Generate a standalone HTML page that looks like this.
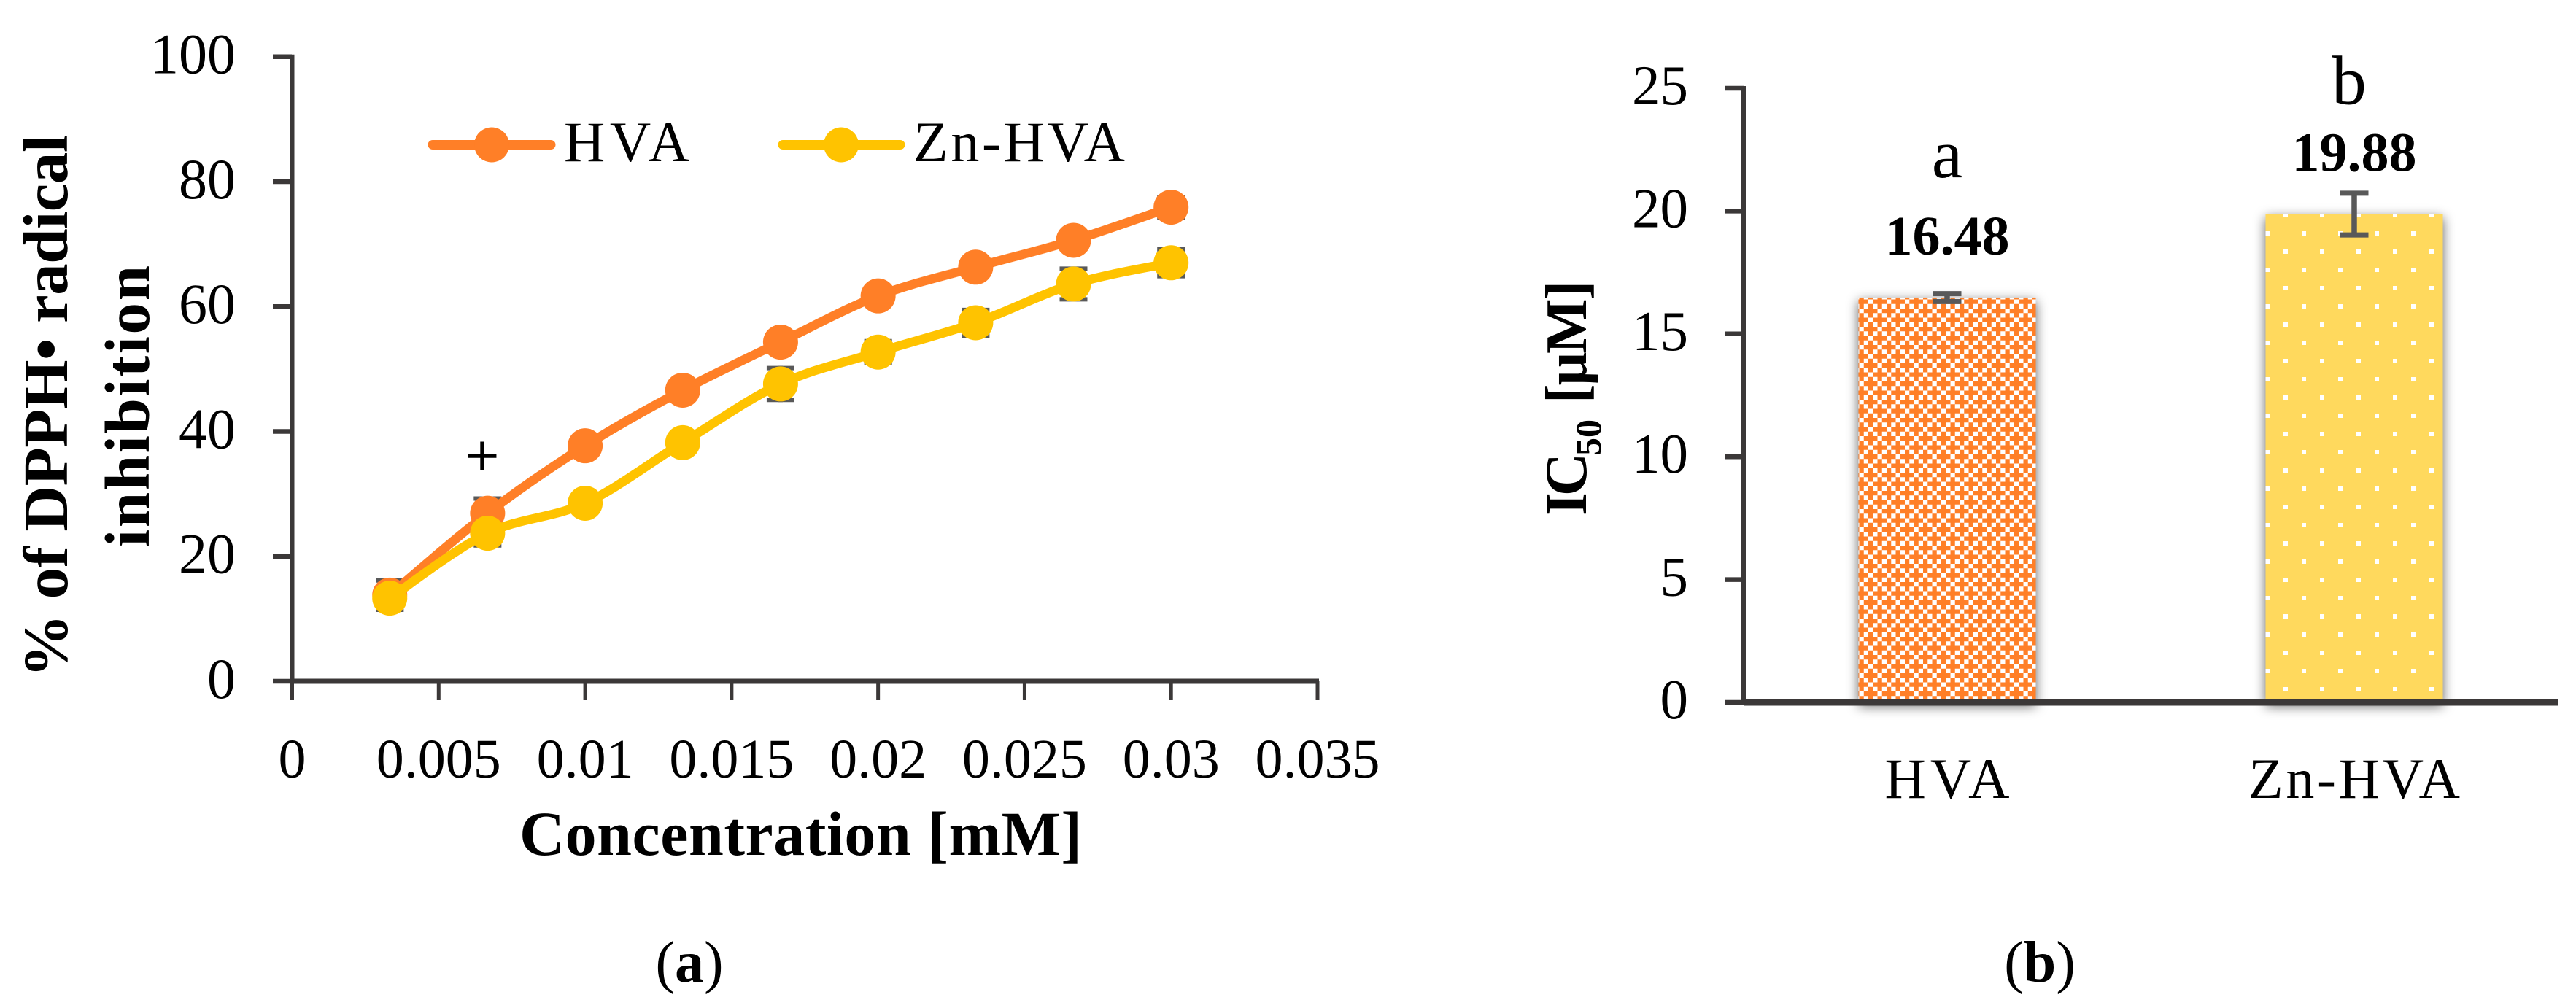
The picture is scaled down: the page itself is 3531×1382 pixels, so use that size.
<!DOCTYPE html>
<html lang="en">
<head>
<meta charset="utf-8">
<title>DPPH radical inhibition and IC50 of HVA and Zn-HVA</title>
<style>
  html, body { margin: 0; padding: 0; background: #fff; }
  svg { display: block; }
  text { font-family: "Liberation Serif", "Noto Serif CJK SC", serif; fill: #000; }
</style>
</head>
<body>
<svg id="figure" xmlns="http://www.w3.org/2000/svg" width="3531" height="1382" viewBox="0 0 3531 1382">
  <defs>
    <pattern id="hvaPattern" patternUnits="userSpaceOnUse" x="2548.5" y="410.5" width="25" height="25">
      <rect width="25" height="25" fill="#ff7f27"/>
      <rect x="12.5" y="0" width="6.25" height="6.25" fill="#fff"/>
      <rect x="6.25" y="6.25" width="6.25" height="6.25" fill="#fff"/>
      <rect x="18.75" y="6.25" width="6.25" height="6.25" fill="#fff"/>
      <rect x="0" y="12.5" width="6.25" height="6.25" fill="#fff"/>
      <rect x="6.25" y="18.75" width="6.25" height="6.25" fill="#fff"/>
      <rect x="18.75" y="18.75" width="6.25" height="6.25" fill="#fff"/>
    </pattern>
    <pattern id="znPattern" patternUnits="userSpaceOnUse" x="3105" y="317" width="50" height="50">
      <rect width="50" height="50" fill="#ffd95d"/>
      <rect x="0" y="0" width="6" height="6" fill="#fff"/>
      <rect x="25" y="25" width="6" height="6" fill="#fff"/>
    </pattern>
    <filter id="barShadow" filterUnits="userSpaceOnUse" x="2400" y="200" width="1131" height="850">
      <feGaussianBlur stdDeviation="8"/>
    </filter>
  </defs>

  <g id="chartA">
    <g id="axesA"></g>
    <g id="errorsA"></g>
    <g id="seriesA"></g>
    <text x="661" y="652" font-size="80" text-anchor="middle" stroke="#000" stroke-width="1.5">+</text>
    <g>
      <g>
        <line x1="593" y1="198.5" x2="755" y2="198.5" stroke="#ff7f27" stroke-width="13" stroke-linecap="round"/>
        <circle cx="674" cy="198.5" r="24" fill="#ff7f27"/>
        <text x="773" y="221" font-size="78" textLength="172">HVA</text>
      </g>
      <g>
        <line x1="1073" y1="198.5" x2="1234" y2="198.5" stroke="#ffc300" stroke-width="13" stroke-linecap="round"/>
        <circle cx="1153" cy="198.5" r="24" fill="#ffc300"/>
        <text x="1252" y="221" font-size="78" textLength="290">Zn-HVA</text>
      </g>
    </g>
    <text transform="translate(92 929) rotate(-90)" font-size="87" font-weight="700" textLength="744">% of DPPH• radical</text>
    <text transform="translate(204 750) rotate(-90)" font-size="87" font-weight="700" textLength="386">inhibition</text>
    <text x="712" y="1172" font-size="86" font-weight="700" textLength="771">Concentration [mM]</text>
    <text x="945" y="1346" font-size="80" text-anchor="middle">(<tspan font-weight="700">a</tspan>)</text>
  </g>

  <g id="chartB">
    <g id="barsB"></g>
    <g id="axesB"></g>
    <g id="errorsB"></g>
    <g id="labelsB"></g>
    <text transform="translate(2174 707) rotate(-90)" font-size="82" font-weight="700"><tspan x="0" letter-spacing="-5">IC</tspan><tspan x="82" dy="20" font-size="50">50</tspan><tspan x="154" dy="-20" font-size="80" letter-spacing="-2">[μM]</tspan></text>
    <text x="2796" y="1346" font-size="80" text-anchor="middle">(<tspan font-weight="700">b</tspan>)</text>
  </g>

<script>
// Panel (a) data
const concentrations = [0.00333, 0.00667, 0.01, 0.01333, 0.01667, 0.02, 0.02333, 0.02667, 0.03];
const hvaInhibition = [13.8, 26.9, 37.7, 46.6, 54.3, 61.7, 66.3, 70.6, 75.9];
const znHvaInhibition = [13.3, 23.7, 28.5, 38.2, 47.6, 52.7, 57.4, 63.6, 67.0];
const hvaErrors = [2.7, 2.7, 1.2, 1.2, 1.2, 1.2, 1.2, 1.2, 2.0];
const znHvaErrors = [2.2, 2.3, 1.2, 1.2, 2.9, 2.1, 2.4, 2.8, 2.5];
const xTickLabels = ["0", "0.005", "0.01", "0.015", "0.02", "0.025", "0.03", "0.035"];
const yTickLabels = [0, 20, 40, 60, 80, 100];

// Panel (b) data
const barCategories = ["HVA", "Zn-HVA"];
const barValues = [16.48, 19.88];
const barErrors = [0.16, 0.85];
const barLetters = ["a", "b"];
const barYTickLabels = [0, 5, 10, 15, 20, 25];

const SVG_NS = "http://www.w3.org/2000/svg";
const AXIS_COLOR = "#3b3838";
const ERROR_COLOR = "#595959";

const xA = v => 400.5 + v * (1806 - 400.5) / 0.035;
const yA = v => 934 - v * 8.563;
const yB = v => 963 - v * 33.68;
const xB = i => 2390 + (i + 0.5) * 558;

function mk(tag, attrs, parent) {
  const el = document.createElementNS(SVG_NS, tag);
  for (const k in attrs) el.setAttribute(k, attrs[k]);
  parent.appendChild(el);
  return el;
}

function smoothPath(xs, ys) {
  const pts = xs.map((x, i) => [xA(x), yA(ys[i])]);
  let d = "M" + pts[0][0] + " " + pts[0][1];
  for (let i = 0; i < pts.length - 1; i++) {
    const p0 = pts[Math.max(i - 1, 0)], p1 = pts[i], p2 = pts[i + 1], p3 = pts[Math.min(i + 2, pts.length - 1)];
    const c1x = p1[0] + (p2[0] - p0[0]) / 6, c1y = p1[1] + (p2[1] - p0[1]) / 6;
    const c2x = p2[0] - (p3[0] - p1[0]) / 6, c2y = p2[1] - (p3[1] - p1[1]) / 6;
    d += " C" + c1x + " " + c1y + " " + c2x + " " + c2y + " " + p2[0] + " " + p2[1];
  }
  return d;
}

// ---------- Panel (a) axes ----------
const axesA = document.getElementById("axesA");
const yAxisA = mk("line", {x1: 400.5, y1: yA(100) - 3, x2: 400.5, y2: yA(0) + 3, stroke: AXIS_COLOR, "stroke-width": 6}, axesA);


const xAxisA = mk("line", {x1: 400, y1: yA(0), x2: xA(0.035) + 2, y2: yA(0), stroke: AXIS_COLOR, "stroke-width": 7}, axesA);



yTickLabels.forEach(v => {
  const tick = mk("line", {x1: 374, y1: yA(v), x2: 400, y2: yA(v), stroke: AXIS_COLOR, "stroke-width": 6.5}, axesA);
  
  
  const label = mk("text", {x: 323, y: yA(v) + 23, "font-size": 78, "text-anchor": "end"}, axesA);
  label.textContent = String(v);
  
  
});

xTickLabels.forEach(s => {
  const v = parseFloat(s);
  const tick = mk("line", {x1: xA(v), y1: yA(0), x2: xA(v), y2: 960, stroke: AXIS_COLOR, "stroke-width": 5}, axesA);
  
  
  const label = mk("text", {x: xA(v), y: 1066, "font-size": 76, "text-anchor": "middle"}, axesA);
  label.textContent = s;
  
  
});

// ---------- Panel (a) error bars ----------
const errorsA = document.getElementById("errorsA");
function drawErrors(values, errors, name) {
  values.forEach((v, i) => {
    const cx = xA(concentrations[i]);
    const g = mk("g", {stroke: ERROR_COLOR, "stroke-width": 6, fill: "none"}, errorsA);
    
    
    mk("line", {x1: cx, y1: yA(v - errors[i]), x2: cx, y2: yA(v + errors[i])}, g);
    mk("line", {x1: cx - 19, y1: yA(v + errors[i]) + 3, x2: cx + 19, y2: yA(v + errors[i]) + 3}, g);
    mk("line", {x1: cx - 19, y1: yA(v - errors[i]) - 3, x2: cx + 19, y2: yA(v - errors[i]) - 3}, g);
  });
}
drawErrors(hvaInhibition, hvaErrors, "hva");
drawErrors(znHvaInhibition, znHvaErrors, "zn-hva");

// ---------- Panel (a) series ----------
const seriesA = document.getElementById("seriesA");
function drawSeries(values, color, name) {
  const g = mk("g", {}, seriesA);
  
  
  const path = mk("path", {d: smoothPath(concentrations, values), fill: "none", stroke: color, "stroke-width": 12.5, "stroke-linejoin": "round", "stroke-linecap": "round"}, g);
  
  
  values.forEach((v, i) => {
    const c = mk("circle", {cx: xA(concentrations[i]), cy: yA(v), r: 24, fill: color}, g);
    
    
  });
}
drawSeries(hvaInhibition, "#ff7f27", "hva");
drawSeries(znHvaInhibition, "#ffc300", "zn-hva");

// ---------- Panel (b) bars ----------
const barsB = document.getElementById("barsB");
const barFills = ["url(#hvaPattern)", "url(#znPattern)"];
const BAR_WIDTH = 243;
barValues.forEach((v, i) => {
  const cx = xB(i);
  const shadow = mk("rect", {x: cx - BAR_WIDTH / 2, y: yB(v) + 5, width: BAR_WIDTH, height: yB(0) - yB(v), fill: "#000", "fill-opacity": 0.62, filter: "url(#barShadow)"}, barsB);
  
  
  const bar = mk("rect", {x: cx - BAR_WIDTH / 2, y: yB(v), width: BAR_WIDTH, height: yB(0) - yB(v), fill: barFills[i]}, barsB);
  
  
});

// ---------- Panel (b) axes ----------
const axesB = document.getElementById("axesB");
const yAxisB = mk("line", {x1: 2390, y1: yB(25) - 3, x2: 2390, y2: yB(0), stroke: AXIS_COLOR, "stroke-width": 6}, axesB);


const xAxisB = mk("line", {x1: 2390, y1: yB(0), x2: 3506, y2: yB(0), stroke: AXIS_COLOR, "stroke-width": 9}, axesB);


barYTickLabels.forEach(v => {
  const tick = mk("line", {x1: 2364.5, y1: yB(v), x2: 2390, y2: yB(v), stroke: AXIS_COLOR, "stroke-width": 6.5}, axesB);
  
  
  const label = mk("text", {x: 2314, y: yB(v) + 22, "font-size": 77, "text-anchor": "end"}, axesB);
  label.textContent = String(v);
  
  
});

// ---------- Panel (b) error bars ----------
const errorsB = document.getElementById("errorsB");
barValues.forEach((v, i) => {
  const cx = xB(i);
  const g = mk("g", {stroke: ERROR_COLOR, fill: "none"}, errorsB);
  
  
  mk("line", {x1: cx, y1: yB(v - barErrors[i]), x2: cx, y2: yB(v + barErrors[i]), "stroke-width": 7.5}, g);
  mk("line", {x1: cx - 19.5, y1: yB(v + barErrors[i]), x2: cx + 19.5, y2: yB(v + barErrors[i]), "stroke-width": 7}, g);
  mk("line", {x1: cx - 19.5, y1: yB(v - barErrors[i]), x2: cx + 19.5, y2: yB(v - barErrors[i]), "stroke-width": 7}, g);
});

// ---------- Panel (b) labels ----------
const labelsB = document.getElementById("labelsB");
const letterXOffset = [0, -7];
const letterGap = [165, 151];
barValues.forEach((v, i) => {
  const cx = xB(i);
  const cat = mk("text", {x: cx, y: 1094, "font-size": 78, "text-anchor": "middle", textLength: i === 0 ? 171 : 290}, labelsB);
  cat.textContent = barCategories[i];
  
  
  const val = mk("text", {x: cx, y: yB(v) - 59, "font-size": 76, "font-weight": 700, "text-anchor": "middle"}, labelsB);
  val.textContent = v.toFixed(2);
  
  
  const letter = mk("text", {x: cx + letterXOffset[i], y: yB(v) - letterGap[i], "font-size": 95, "text-anchor": "middle"}, labelsB);
  letter.textContent = barLetters[i];
  
  
});
</script>
</svg>
</body>
</html>
